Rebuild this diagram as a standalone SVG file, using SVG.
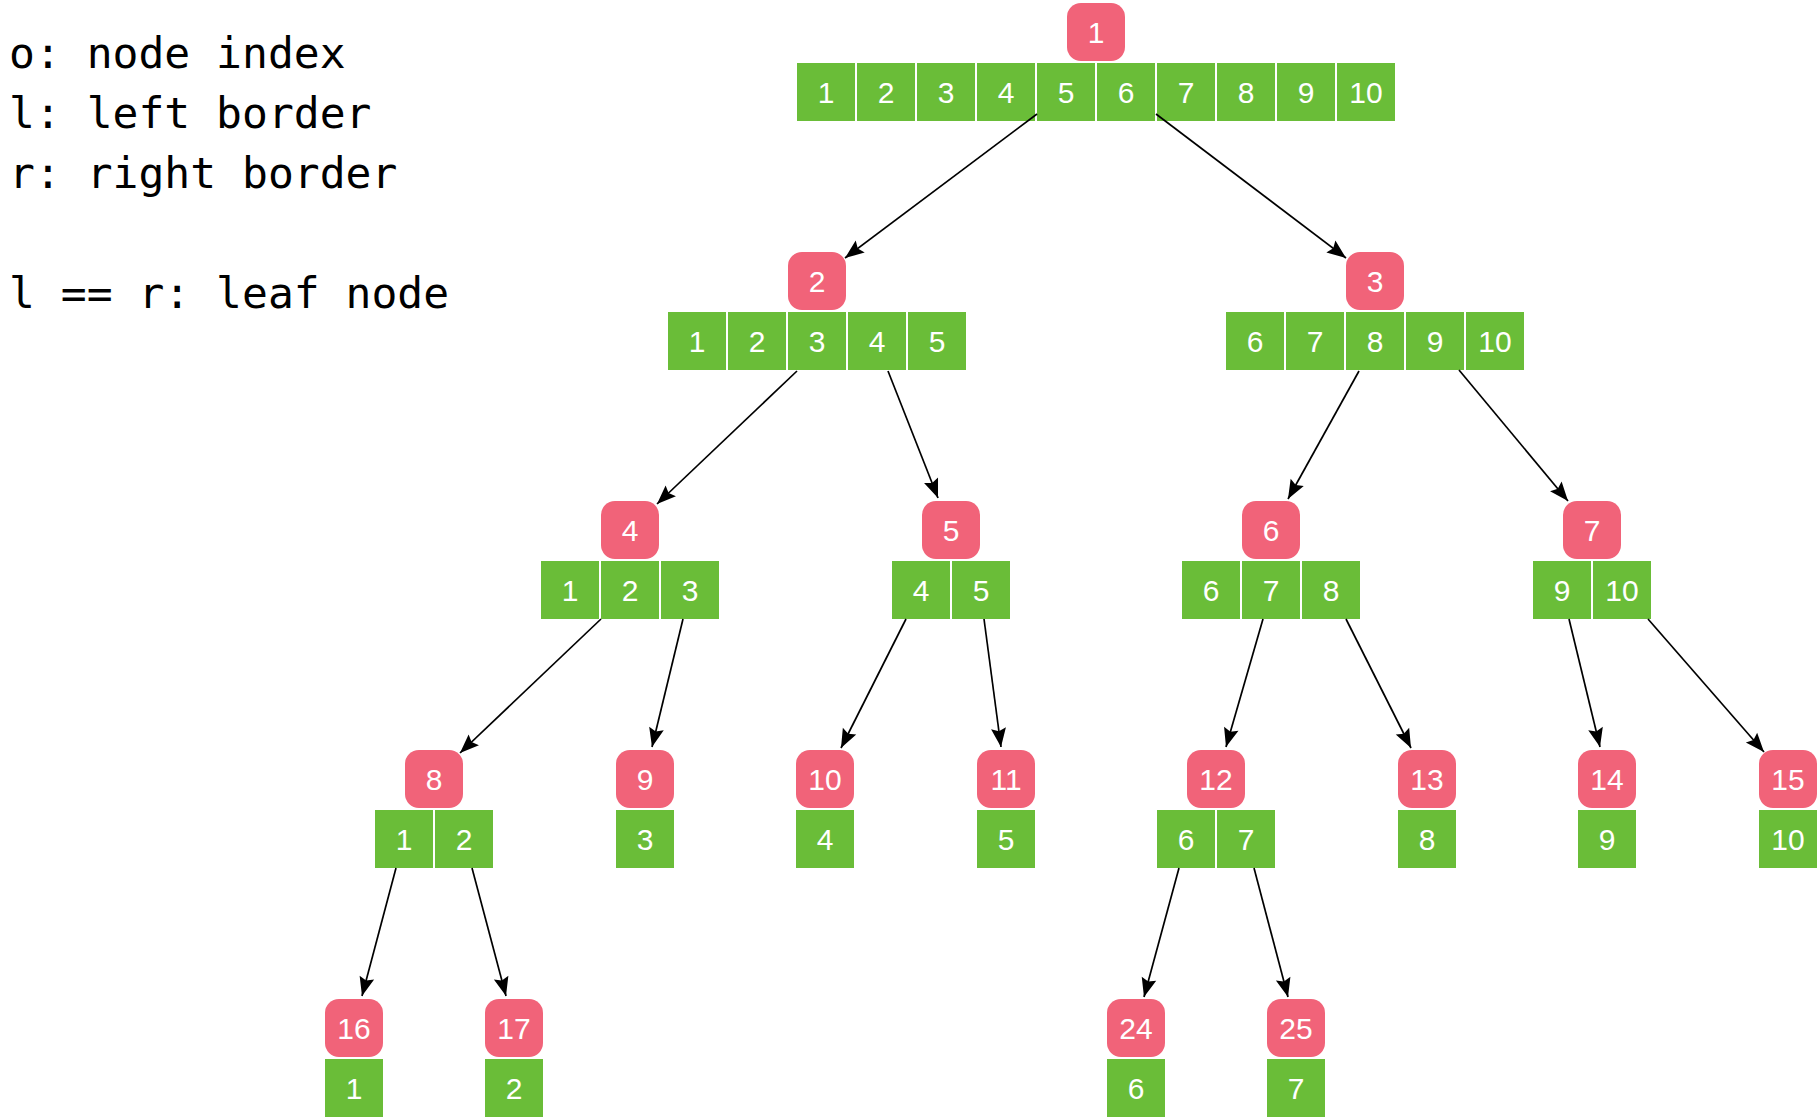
<svg xmlns="http://www.w3.org/2000/svg" width="1820" height="1120" viewBox="0 0 1820 1120">
<style>
.idx{fill:#F16379}
.cell{fill:#6ABD38}
.t{fill:#ffffff;font-family:"Liberation Sans",Arial,sans-serif;font-size:30px;text-anchor:middle}
.legend{fill:#000000;font-family:"DejaVu Sans Mono","Liberation Mono",monospace;font-size:43px}
.edge{stroke:#000000;stroke-width:1.7;fill:none;marker-end:url(#arrow)}
</style>
<defs>
<marker id="arrow" markerUnits="userSpaceOnUse" markerWidth="22" markerHeight="18" viewBox="-20 -9 22 18" refX="0" refY="0" orient="auto">
<path d="M0,0 L-19,-7.5 L-16,0 L-19,7.5 Z" fill="#000000"/>
</marker>
</defs>
<rect x="0" y="0" width="1820" height="1120" fill="#ffffff"/>

<g id="legend">
<text class="legend" x="9" y="68">o: node index</text>
<text class="legend" x="9" y="128">l: left border</text>
<text class="legend" x="9" y="188">r: right border</text>
<text class="legend" x="9" y="308">l == r: leaf node</text>
</g>

<g id="node-1">
<rect class="idx" x="1067" y="3" width="58" height="58" rx="14"/><text class="t" x="1096" y="42.7">1</text>
<rect class="cell" x="797" y="63" width="58" height="58"/><text class="t" x="826" y="102.7">1</text>
<rect class="cell" x="857" y="63" width="58" height="58"/><text class="t" x="886" y="102.7">2</text>
<rect class="cell" x="917" y="63" width="58" height="58"/><text class="t" x="946" y="102.7">3</text>
<rect class="cell" x="977" y="63" width="58" height="58"/><text class="t" x="1006" y="102.7">4</text>
<rect class="cell" x="1037" y="63" width="58" height="58"/><text class="t" x="1066" y="102.7">5</text>
<rect class="cell" x="1097" y="63" width="58" height="58"/><text class="t" x="1126" y="102.7">6</text>
<rect class="cell" x="1157" y="63" width="58" height="58"/><text class="t" x="1186" y="102.7">7</text>
<rect class="cell" x="1217" y="63" width="58" height="58"/><text class="t" x="1246" y="102.7">8</text>
<rect class="cell" x="1277" y="63" width="58" height="58"/><text class="t" x="1306" y="102.7">9</text>
<rect class="cell" x="1337" y="63" width="58" height="58"/><text class="t" x="1366" y="102.7">10</text>
</g>

<g id="node-2">
<rect class="idx" x="788" y="252" width="58" height="58" rx="14"/><text class="t" x="817" y="291.7">2</text>
<rect class="cell" x="668" y="312" width="58" height="58"/><text class="t" x="697" y="351.7">1</text>
<rect class="cell" x="728" y="312" width="58" height="58"/><text class="t" x="757" y="351.7">2</text>
<rect class="cell" x="788" y="312" width="58" height="58"/><text class="t" x="817" y="351.7">3</text>
<rect class="cell" x="848" y="312" width="58" height="58"/><text class="t" x="877" y="351.7">4</text>
<rect class="cell" x="908" y="312" width="58" height="58"/><text class="t" x="937" y="351.7">5</text>
</g>

<g id="node-3">
<rect class="idx" x="1346" y="252" width="58" height="58" rx="14"/><text class="t" x="1375" y="291.7">3</text>
<rect class="cell" x="1226" y="312" width="58" height="58"/><text class="t" x="1255" y="351.7">6</text>
<rect class="cell" x="1286" y="312" width="58" height="58"/><text class="t" x="1315" y="351.7">7</text>
<rect class="cell" x="1346" y="312" width="58" height="58"/><text class="t" x="1375" y="351.7">8</text>
<rect class="cell" x="1406" y="312" width="58" height="58"/><text class="t" x="1435" y="351.7">9</text>
<rect class="cell" x="1466" y="312" width="58" height="58"/><text class="t" x="1495" y="351.7">10</text>
</g>

<g id="node-4">
<rect class="idx" x="601" y="501" width="58" height="58" rx="14"/><text class="t" x="630" y="540.7">4</text>
<rect class="cell" x="541" y="561" width="58" height="58"/><text class="t" x="570" y="600.7">1</text>
<rect class="cell" x="601" y="561" width="58" height="58"/><text class="t" x="630" y="600.7">2</text>
<rect class="cell" x="661" y="561" width="58" height="58"/><text class="t" x="690" y="600.7">3</text>
</g>

<g id="node-5">
<rect class="idx" x="922" y="501" width="58" height="58" rx="14"/><text class="t" x="951" y="540.7">5</text>
<rect class="cell" x="892" y="561" width="58" height="58"/><text class="t" x="921" y="600.7">4</text>
<rect class="cell" x="952" y="561" width="58" height="58"/><text class="t" x="981" y="600.7">5</text>
</g>

<g id="node-6">
<rect class="idx" x="1242" y="501" width="58" height="58" rx="14"/><text class="t" x="1271" y="540.7">6</text>
<rect class="cell" x="1182" y="561" width="58" height="58"/><text class="t" x="1211" y="600.7">6</text>
<rect class="cell" x="1242" y="561" width="58" height="58"/><text class="t" x="1271" y="600.7">7</text>
<rect class="cell" x="1302" y="561" width="58" height="58"/><text class="t" x="1331" y="600.7">8</text>
</g>

<g id="node-7">
<rect class="idx" x="1563" y="501" width="58" height="58" rx="14"/><text class="t" x="1592" y="540.7">7</text>
<rect class="cell" x="1533" y="561" width="58" height="58"/><text class="t" x="1562" y="600.7">9</text>
<rect class="cell" x="1593" y="561" width="58" height="58"/><text class="t" x="1622" y="600.7">10</text>
</g>

<g id="node-8">
<rect class="idx" x="405" y="750" width="58" height="58" rx="14"/><text class="t" x="434" y="789.7">8</text>
<rect class="cell" x="375" y="810" width="58" height="58"/><text class="t" x="404" y="849.7">1</text>
<rect class="cell" x="435" y="810" width="58" height="58"/><text class="t" x="464" y="849.7">2</text>
</g>

<g id="node-9">
<rect class="idx" x="616" y="750" width="58" height="58" rx="14"/><text class="t" x="645" y="789.7">9</text>
<rect class="cell" x="616" y="810" width="58" height="58"/><text class="t" x="645" y="849.7">3</text>
</g>

<g id="node-10">
<rect class="idx" x="796" y="750" width="58" height="58" rx="14"/><text class="t" x="825" y="789.7">10</text>
<rect class="cell" x="796" y="810" width="58" height="58"/><text class="t" x="825" y="849.7">4</text>
</g>

<g id="node-11">
<rect class="idx" x="977" y="750" width="58" height="58" rx="14"/><text class="t" x="1006" y="789.7">11</text>
<rect class="cell" x="977" y="810" width="58" height="58"/><text class="t" x="1006" y="849.7">5</text>
</g>

<g id="node-12">
<rect class="idx" x="1187" y="750" width="58" height="58" rx="14"/><text class="t" x="1216" y="789.7">12</text>
<rect class="cell" x="1157" y="810" width="58" height="58"/><text class="t" x="1186" y="849.7">6</text>
<rect class="cell" x="1217" y="810" width="58" height="58"/><text class="t" x="1246" y="849.7">7</text>
</g>

<g id="node-13">
<rect class="idx" x="1398" y="750" width="58" height="58" rx="14"/><text class="t" x="1427" y="789.7">13</text>
<rect class="cell" x="1398" y="810" width="58" height="58"/><text class="t" x="1427" y="849.7">8</text>
</g>

<g id="node-14">
<rect class="idx" x="1578" y="750" width="58" height="58" rx="14"/><text class="t" x="1607" y="789.7">14</text>
<rect class="cell" x="1578" y="810" width="58" height="58"/><text class="t" x="1607" y="849.7">9</text>
</g>

<g id="node-15">
<rect class="idx" x="1759" y="750" width="58" height="58" rx="14"/><text class="t" x="1788" y="789.7">15</text>
<rect class="cell" x="1759" y="810" width="58" height="58"/><text class="t" x="1788" y="849.7">10</text>
</g>

<g id="node-16">
<rect class="idx" x="325" y="999" width="58" height="58" rx="14"/><text class="t" x="354" y="1038.7">16</text>
<rect class="cell" x="325" y="1059" width="58" height="58"/><text class="t" x="354" y="1098.7">1</text>
</g>

<g id="node-17">
<rect class="idx" x="485" y="999" width="58" height="58" rx="14"/><text class="t" x="514" y="1038.7">17</text>
<rect class="cell" x="485" y="1059" width="58" height="58"/><text class="t" x="514" y="1098.7">2</text>
</g>

<g id="node-24">
<rect class="idx" x="1107" y="999" width="58" height="58" rx="14"/><text class="t" x="1136" y="1038.7">24</text>
<rect class="cell" x="1107" y="1059" width="58" height="58"/><text class="t" x="1136" y="1098.7">6</text>
</g>

<g id="node-25">
<rect class="idx" x="1267" y="999" width="58" height="58" rx="14"/><text class="t" x="1296" y="1038.7">25</text>
<rect class="cell" x="1267" y="1059" width="58" height="58"/><text class="t" x="1296" y="1098.7">7</text>
</g>

<g id="connectors">
<line class="edge" x1="1037" y1="114" x2="845" y2="258"/>
<line class="edge" x1="1156" y1="114" x2="1346" y2="258"/>
<line class="edge" x1="797" y1="371" x2="657" y2="504"/>
<line class="edge" x1="888" y1="371" x2="938" y2="498"/>
<line class="edge" x1="1359" y1="371" x2="1288" y2="499"/>
<line class="edge" x1="1459" y1="370" x2="1568" y2="501"/>
<line class="edge" x1="601" y1="619" x2="460" y2="753"/>
<line class="edge" x1="683" y1="619" x2="652" y2="747"/>
<line class="edge" x1="906" y1="619" x2="841" y2="748"/>
<line class="edge" x1="984" y1="619" x2="1001" y2="747"/>
<line class="edge" x1="1263" y1="619" x2="1226" y2="747"/>
<line class="edge" x1="1346" y1="619" x2="1411" y2="748"/>
<line class="edge" x1="1569" y1="619" x2="1600" y2="747"/>
<line class="edge" x1="1648" y1="619" x2="1764" y2="752"/>
<line class="edge" x1="396" y1="868" x2="362" y2="996"/>
<line class="edge" x1="472" y1="868" x2="506" y2="996"/>
<line class="edge" x1="1179" y1="868" x2="1144" y2="997"/>
<line class="edge" x1="1254" y1="868" x2="1288" y2="997"/>
</g>
</svg>
